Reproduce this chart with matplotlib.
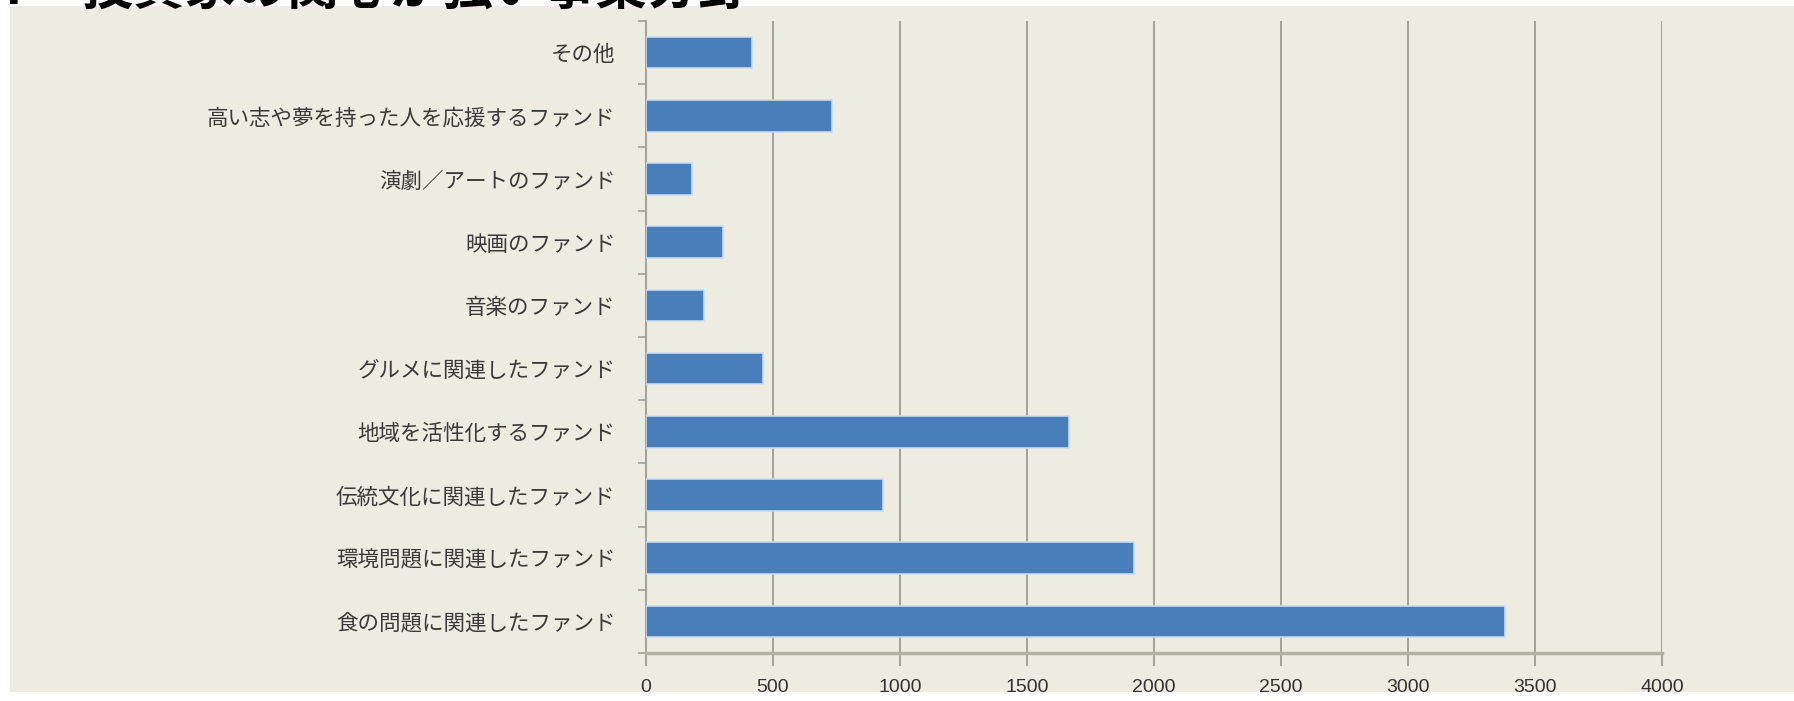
import matplotlib
matplotlib.use("Agg")
import matplotlib.pyplot as plt
import numpy as np

plt.rcParams['font.family'] = ['Noto Sans CJK JP', 'DejaVu Sans']

# data (bottom to top)
categories = ['食の問題に関連したファンド', '環境問題に関連したファンド', '伝統文化に関連したファンド',
              '地域を活性化するファンド', 'グルメに関連したファンド', '音楽のファンド',
              '映画のファンド', '演劇／アートのファンド', '高い志や夢を持った人を応援するファンド', 'その他']
values = [3380, 1920, 935, 1665, 460, 230, 305, 180, 733, 416]
xticks = [0, 500, 1000, 1500, 2000, 2500, 3000, 3500, 4000]

bg = '#EEEBE0'
bar_color = '#4A7EBB'
grid_color = '#A3A094'

fig = plt.figure(figsize=(17.94, 7.01), dpi=100, facecolor='white')

# beige chart area with a thin white margin on left/top/bottom
bg_ax = fig.add_axes([10 / 1794, 9 / 701, 1 - 10 / 1794, 1 - 15 / 701], zorder=-1)
bg_ax.set_facecolor(bg)
bg_ax.set_xticks([])
bg_ax.set_yticks([])
for s in bg_ax.spines.values():
    s.set_visible(False)

# title, cut off at the top edge as in the source image
fig.text(0.0, 1 - 4 / 701, '7　投資家の関心が強い事業分野', fontsize=37, fontweight='bold',
         color='black', ha='left', va='baseline')

ax = fig.add_axes([646 / 1794, 48 / 701, 1016 / 1794, 632 / 701], zorder=1)
ax.set_facecolor('none')

y = np.arange(len(categories))
ax.barh(y, values, height=0.5, color=bar_color, edgecolor='#C9DBEF', linewidth=1.2, zorder=3)

ax.set_xlim(0, 4000)
ax.set_ylim(-0.5, len(categories) - 0.5)

ax.set_xticks(xticks)
ax.set_xticklabels([str(t) for t in xticks], family=['Liberation Sans', 'DejaVu Sans'])
ax.tick_params(axis='x', length=9, width=1.4, color=grid_color, labelsize=14,
               labelcolor='#333333', pad=10)
for t in xticks[1:]:
    ax.axvline(t, color=grid_color, lw=1.4, zorder=1)

ax.set_yticks(y)
ax.set_yticklabels(categories)
ax.set_yticks(np.arange(-0.5, len(categories), 1.0), minor=True)
ax.tick_params(axis='y', which='major', length=0, labelsize=15.5, labelcolor='#3A3A3A', pad=22)
ax.tick_params(axis='y', which='minor', length=6, width=1.2, color=grid_color)

for s in ['top', 'right']:
    ax.spines[s].set_visible(False)
ax.spines['left'].set_color(grid_color)
ax.spines['left'].set_linewidth(1.4)
ax.spines['bottom'].set_color('#B3B0A4')
ax.spines['bottom'].set_linewidth(2.5)

plt.savefig('out.png', dpi=100, facecolor='white')
